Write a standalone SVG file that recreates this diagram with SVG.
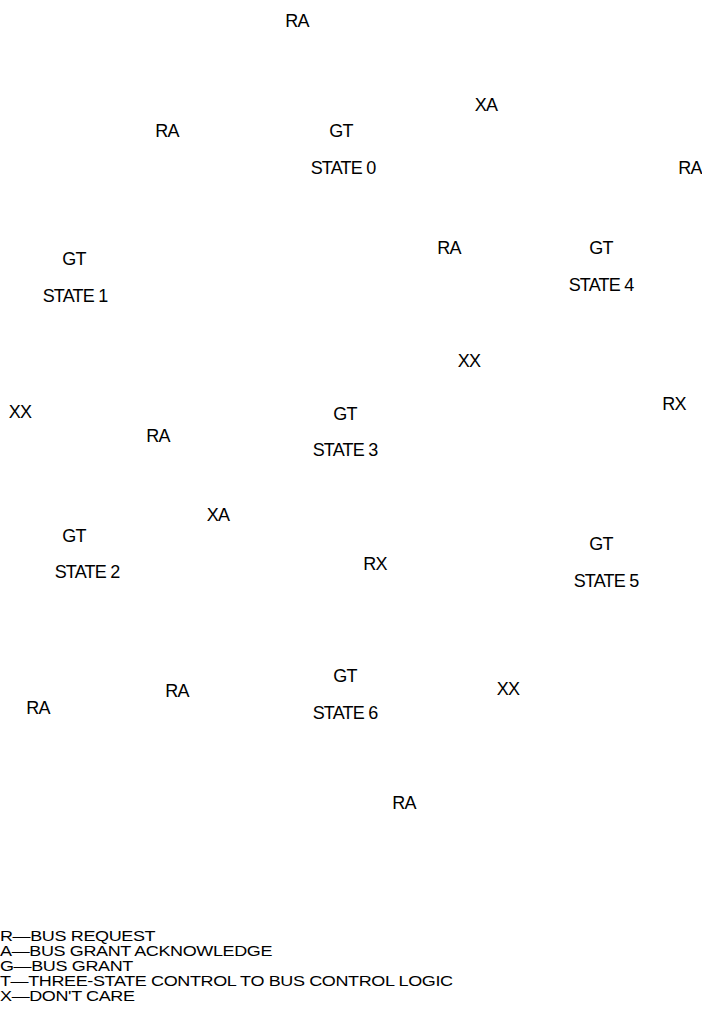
<svg xmlns="http://www.w3.org/2000/svg" width="702" height="1015" viewBox="0 0 702 1015">
<style>
text{font-family:"Liberation Sans",Arial,sans-serif;font-size:18px;letter-spacing:-0.8px;fill:#000}
.c{text-anchor:middle}
.l{font-size:15px;letter-spacing:-0.3px}
</style>
<rect width="702" height="1015" fill="#fff"/>
<g id="state0"><text class="c" x="341" y="137">GT</text><text class="c" x="343" y="173.5">STATE 0</text></g>
<g id="state1"><text class="c" x="74" y="265">GT</text><text class="c" x="75" y="301.5">STATE 1</text></g>
<g id="state4"><text class="c" x="601" y="254">GT</text><text class="c" x="601" y="290.5">STATE 4</text></g>
<g id="state3"><text class="c" x="345" y="420">GT</text><text class="c" x="345" y="455.5">STATE 3</text></g>
<g id="state2"><text class="c" x="74" y="542">GT</text><text class="c" x="87" y="577.5">STATE 2</text></g>
<g id="state5"><text class="c" x="601" y="550">GT</text><text class="c" x="606" y="586.5">STATE 5</text></g>
<g id="state6"><text class="c" x="345" y="682">GT</text><text class="c" x="345" y="718.5">STATE 6</text></g>
<g id="connectors">
<text class="c" x="297" y="27">RA</text>
<text class="c" x="486" y="111">XA</text>
<text class="c" x="167" y="137">RA</text>
<text class="c" x="690" y="174">RA</text>
<text class="c" x="449" y="254">RA</text>
<text class="c" x="469" y="367">XX</text>
<text class="c" x="674" y="410">RX</text>
<text class="c" x="20" y="418">XX</text>
<text class="c" x="158" y="442">RA</text>
<text class="c" x="218" y="521">XA</text>
<text class="c" x="375" y="570">RX</text>
<text class="c" x="508" y="695">XX</text>
<text class="c" x="177" y="697">RA</text>
<text class="c" x="38" y="714">RA</text>
<text class="c" x="404" y="809">RA</text>
</g>
<g id="legend" transform="scale(1.2,1)">
<text class="l" x="0" y="941.5">R—BUS REQUEST</text>
<text class="l" x="0" y="956.5">A—BUS GRANT ACKNOWLEDGE</text>
<text class="l" x="0" y="971.5">G—BUS GRANT</text>
<text class="l" x="0" y="986.5">T—THREE-STATE CONTROL TO BUS CONTROL LOGIC</text>
<text class="l" x="0" y="1001.5">X—DON'T CARE</text>
</g>
</svg>
